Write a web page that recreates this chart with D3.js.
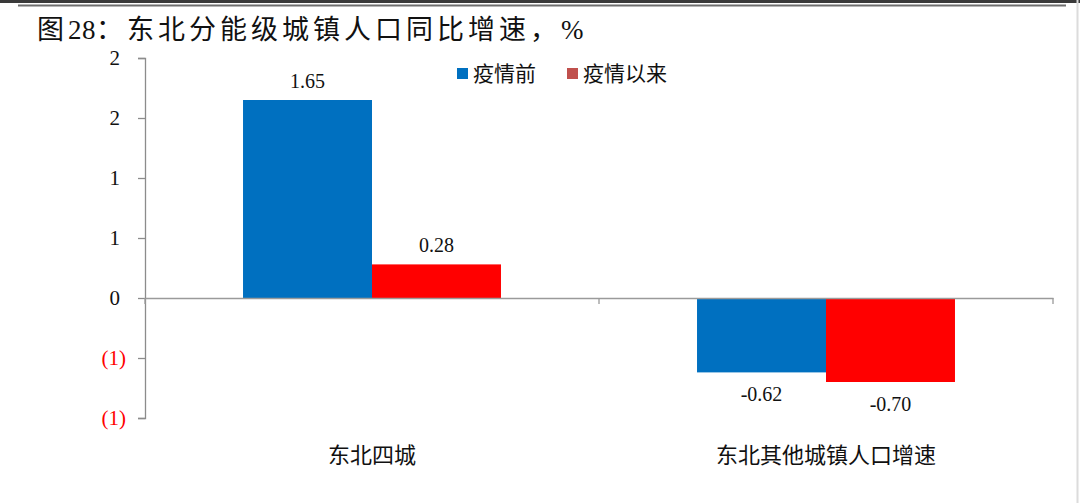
<!DOCTYPE html>
<html>
<head>
<meta charset="utf-8">
<script src="https://cdn.jsdelivr.net/npm/d3@7"></script>
<style>
  html, body { margin: 0; padding: 0; background: #fff; }
  #chart { width: 1080px; height: 503px; }
</style>
</head>
<body>
<div id="chart"></div>
<script>
const TITLE = "图28：东北分能级城镇人口同比增速，%";
const categories = ["东北四城", "东北其他城镇人口增速"];
const seriesNames = ["疫情前", "疫情以来"];
const preCovid = [1.65, -0.62];
const sinceCovid = [0.28, -0.70];
const yTicks = [-1, -0.5, 0, 0.5, 1, 1.5, 2];

const BAR_COLOR = { "疫情前": "#0070c0", "疫情以来": "#ff0000" };
const LEGEND_COLOR = { "疫情前": "#0070c0", "疫情以来": "#c0504d" };

const SERIF = "'Liberation Serif', 'Times New Roman', serif";
const SANS = "'Noto Sans CJK SC', 'Noto Sans', sans-serif";

const width = 1080;
const height = 503;
const margin = { top: 58, right: 27, bottom: 85, left: 145 };

const rows = categories.map((c, i) => ({
  category: c,
  values: [
    { series: seriesNames[0], value: preCovid[i] },
    { series: seriesNames[1], value: sinceCovid[i] },
  ],
}));

const svg = d3.select("#chart")
  .append("svg")
  .attr("width", width)
  .attr("height", height)
  .attr("viewBox", `0 0 ${width} ${height}`);

// page frame: dark strip on top, rule under it, faint right edge
svg.append("rect").attr("x", 0).attr("y", 0).attr("width", width).attr("height", 3).attr("fill", "#3a3a3a");
svg.append("line")
  .attr("x1", 18).attr("x2", 1066).attr("y1", 5.5).attr("y2", 5.5)
  .attr("stroke", "#6e6e6e").attr("stroke-width", 2);
svg.append("line")
  .attr("x1", 1077.5).attr("x2", 1077.5).attr("y1", 0).attr("y2", height)
  .attr("stroke", "#dcdcdc").attr("stroke-width", 2);

// title: latin digits kept tight, CJK glyphs spaced like the source
const titleParts = TITLE.match(/[0-9%]+|[^0-9%]+/g);
svg.append("text")
  .attr("x", 37).attr("y", 39)
  .attr("font-family", "'Liberation Serif', 'Noto Sans CJK SC'")
  .attr("font-size", 27)
  .attr("fill", "#111")
  .selectAll("tspan")
  .data(titleParts)
  .join("tspan")
  .attr("letter-spacing", (d) => (/^[0-9%]+$/.test(d) ? 0.5 : 4))
  .text((d) => d);

const x0 = d3.scaleBand()
  .domain(categories)
  .range([margin.left, width - margin.right])
  .paddingInner(0)
  .paddingOuter(0);

const x1 = d3.scaleBand()
  .domain(seriesNames)
  .range([0, x0.bandwidth()])
  .paddingInner(0)
  .paddingOuter(0.76);

const y = d3.scaleLinear()
  .domain([-1, 2])
  .range([height - margin.bottom, margin.top]);

// Excel style "#,##0_);(#,##0)"
const fmtTick = (v) => {
  const r = Math.round(Math.abs(v));
  return v < 0 ? `(${r})` : `${r}`;
};

// y axis
const yAxis = svg.append("g")
  .attr("transform", `translate(${margin.left},0)`)
  .call(d3.axisLeft(y).tickValues(yTicks).tickSize(7).tickPadding(12).tickFormat(fmtTick));
yAxis.select(".domain").attr("stroke", "#8c8c8c").attr("stroke-width", 1.3);
yAxis.selectAll(".tick line").attr("stroke", "#8c8c8c").attr("stroke-width", 1.3);
yAxis.selectAll(".tick text")
  .attr("font-family", SERIF)
  .attr("font-size", 21)
  .attr("dx", (d) => (d < 0 ? 0 : -6))
  .attr("fill", (d) => (d < 0 ? "#ff0000" : "#111"));

// bars
const groups = svg.append("g")
  .selectAll("g")
  .data(rows)
  .join("g")
  .attr("transform", (d) => `translate(${x0(d.category)},0)`);

groups.selectAll("rect")
  .data((d) => d.values)
  .join("rect")
  .attr("x", (d) => x1(d.series))
  .attr("width", x1.bandwidth())
  .attr("y", (d) => y(Math.max(0, d.value)))
  .attr("height", (d) => Math.abs(y(d.value) - y(0)))
  .attr("fill", (d) => BAR_COLOR[d.series]);

groups.selectAll("text.val")
  .data((d) => d.values)
  .join("text")
  .attr("class", "val")
  .attr("x", (d) => x1(d.series) + x1.bandwidth() / 2)
  .attr("y", (d) => (d.value >= 0 ? y(d.value) - 12 : y(d.value) + 29))
  .attr("text-anchor", "middle")
  .attr("font-family", SERIF)
  .attr("font-size", 20)
  .attr("fill", "#111")
  .text((d) => d.value.toFixed(2));

// category axis along zero
const xAxis = svg.append("g")
  .attr("transform", `translate(0,${y(0)})`)
  .call(d3.axisBottom(x0).tickSize(0).tickFormat(""));
xAxis.select(".domain").attr("stroke", "#9a9a9a").attr("stroke-width", 1.3);
const boundaries = categories.map((c) => x0(c)).concat([x0.range()[1]]);
xAxis.selectAll("line.bound")
  .data(boundaries)
  .join("line")
  .attr("class", "bound")
  .attr("x1", (d) => d).attr("x2", (d) => d)
  .attr("y1", 0).attr("y2", 6)
  .attr("stroke", "#9a9a9a").attr("stroke-width", 1.3);

svg.append("g")
  .selectAll("text")
  .data(categories)
  .join("text")
  .attr("x", (d) => x0(d) + x0.bandwidth() / 2)
  .attr("y", 463)
  .attr("text-anchor", "middle")
  .attr("font-family", SANS)
  .attr("font-size", 22)
  .attr("fill", "#111")
  .text((d) => d);

// legend
const legendX = [457, 567];
const legend = svg.append("g")
  .selectAll("g")
  .data(seriesNames)
  .join("g")
  .attr("transform", (d, i) => `translate(${legendX[i]},68)`);
legend.append("rect")
  .attr("width", 11).attr("height", 11)
  .attr("fill", (d) => LEGEND_COLOR[d]);
legend.append("text")
  .attr("x", 16).attr("y", 13)
  .attr("font-family", SANS)
  .attr("font-size", 21)
  .attr("fill", "#111")
  .text((d) => d);
</script>
</body>
</html>
